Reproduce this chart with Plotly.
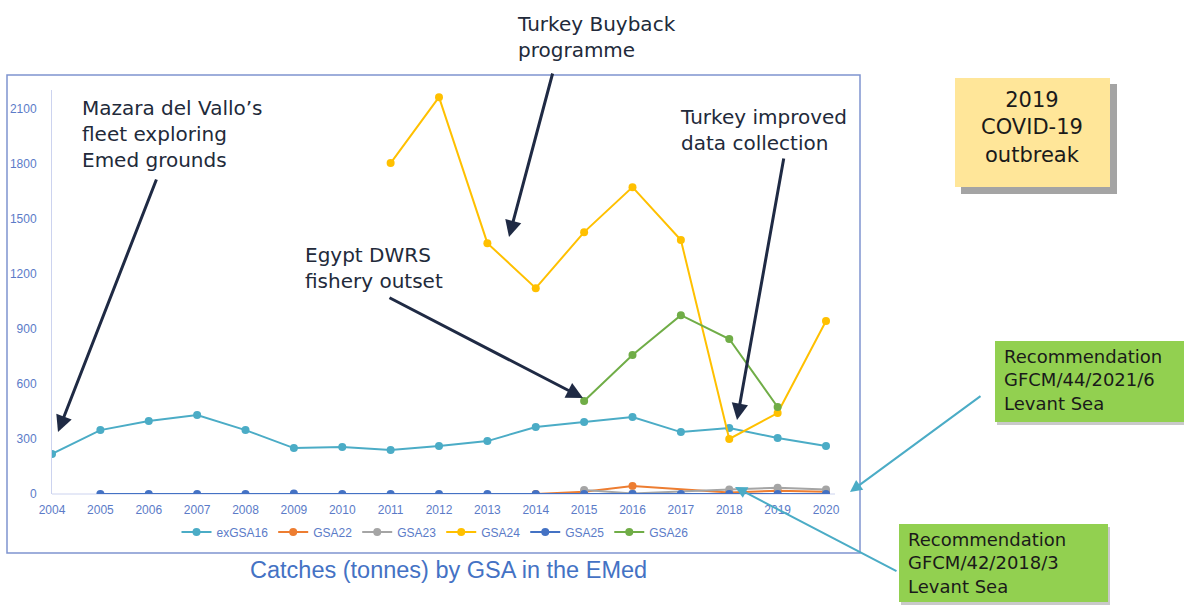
import plotly.graph_objects as go

W, H = 1184, 606

years = list(range(2004, 2021))
exGSA16 = [218, 348, 397, 430, 348, 250, 256, 240, 261, 288, 365, 392, 419, 337, 359, 305, 261]
gsa22_years = [2014, 2015, 2016, 2018, 2019, 2020]
gsa22 = [0, 12, 44, 8, 18, 12]
gsa23_years = [2015, 2016, 2018, 2019, 2020]
gsa23 = [22, 3, 25, 34, 25]
gsa24_years = list(range(2011, 2021))
gsa24 = [1802, 2161, 1366, 1121, 1426, 1671, 1383, 300, 441, 942]
gsa25_years = list(range(2005, 2021))
gsa25 = [0, 0, 0, 0, 3, 0, 0, 0, 0, 0, 0, 0, 0, 0, 0, 0]
gsa26_years = [2015, 2016, 2017, 2018, 2019]
gsa26 = [506, 757, 974, 844, 474]

y_ticks = [0, 300, 600, 900, 1200, 1500, 1800, 2100]

series = [
    ("exGSA16", years, exGSA16, "#4bacc6"),
    ("GSA22", gsa22_years, gsa22, "#ed7d31"),
    ("GSA23", gsa23_years, gsa23, "#a5a5a5"),
    ("GSA24", gsa24_years, gsa24, "#ffc000"),
    ("GSA25", gsa25_years, gsa25, "#4472c4"),
    ("GSA26", gsa26_years, gsa26, "#70ad47"),
]


def px(x):
    return x / W


def py(y):
    return 1 - y / H


fig = go.Figure()
for name, xs, ys, col in series:
    fig.add_trace(go.Scatter(x=xs, y=ys, name=name, mode="lines+markers",
                             line=dict(color=col, width=2),
                             marker=dict(color=col, size=8)))

tick_font = dict(family="Liberation Sans, Arial", size=12, color="#5b7bc8")

fig.update_layout(
    template="none",
    width=W, height=H,
    margin=dict(l=0, r=0, t=0, b=0, pad=0, autoexpand=False),
    paper_bgcolor="white", plot_bgcolor="white",
    showlegend=True,
    legend=dict(orientation="h", x=px(435), y=py(532), xanchor="center", yanchor="middle",
                font=dict(family="Liberation Sans, Arial", size=12, color="#5b7bc8"),
                itemwidth=30, tracegroupgap=0, bgcolor="rgba(0,0,0,0)"),
    xaxis=dict(domain=[px(52), px(835)], range=[2004, 2004 + (835 - 52) / 48.375],
               tickmode="array", tickvals=years, ticktext=[str(y) for y in years],
               showgrid=False, zeroline=False, showline=False, ticks="", automargin=False,
               tickfont=tick_font, ticklabelstandoff=7),
    yaxis=dict(domain=[py(494), py(90)], range=[0, 2200],
               tickmode="array", tickvals=y_ticks, ticktext=[str(v) for v in y_ticks],
               showgrid=False, zeroline=False, showline=True, linecolor="#ccd3ef", linewidth=1,
               ticks="", automargin=False, tickfont=tick_font, ticklabelstandoff=12),
)

shapes = []
# chart frame
shapes.append(dict(type="rect", xref="paper", yref="paper", x0=px(7), x1=px(860), y0=py(553), y1=py(75),
                   line=dict(color="#7f94d0", width=1.5), fillcolor="rgba(0,0,0,0)", layer="below"))
# x axis baseline
shapes.append(dict(type="line", xref="paper", yref="paper", x0=px(52), x1=px(835), y0=py(494), y1=py(494),
                   line=dict(color="#ccd3ef", width=1), layer="below"))
# sticky note shadow + note
shapes.append(dict(type="rect", xref="paper", yref="paper", x0=px(961), x1=px(1117), y0=py(194), y1=py(84),
                   line=dict(width=0), fillcolor="rgba(90,90,90,0.55)"))
shapes.append(dict(type="rect", xref="paper", yref="paper", x0=px(955), x1=px(1110), y0=py(187), y1=py(78),
                   line=dict(width=0), fillcolor="#ffe699"))
# green boxes with shadow
for (x0, x1, y0, y1) in [(995, 1186, 341, 422), (899, 1108, 524, 602)]:
    shapes.append(dict(type="rect", xref="paper", yref="paper", x0=px(x0 + 2), x1=px(x1 + 2), y0=py(y1 + 3), y1=py(y0 + 3),
                       line=dict(width=0), fillcolor="rgba(100,100,100,0.35)"))
    shapes.append(dict(type="rect", xref="paper", yref="paper", x0=px(x0), x1=px(x1), y0=py(y1), y1=py(y0),
                       line=dict(width=0), fillcolor="#92d050"))
fig.update_layout(shapes=shapes)

ann_font = dict(family="DejaVu Sans", size=20, color="#222a3a")
anns = []


def text(x, y, t, font, align="left", xanchor="left"):
    anns.append(dict(xref="paper", yref="paper", x=px(x), y=py(y), text=t, showarrow=False,
                     xanchor=xanchor, yanchor="top", align=align, font=font))


def arrow(hx, hy, tx, ty, color, width, head=2, size=1.0):
    anns.append(dict(xref="paper", yref="paper", x=px(hx), y=py(hy), ax=tx - hx, ay=ty - hy,
                     axref="pixel", ayref="pixel", text="", showarrow=True,
                     arrowhead=head, arrowsize=size, arrowwidth=width, arrowcolor=color))


text(80, 94, "Mazara del Vallo’s<br>fleet exploring<br>Emed grounds", ann_font)
text(515, 10, "Turkey Buyback<br>programme", ann_font)
text(303, 241, "Egypt DWRS<br>fishery outset", ann_font)
text(678, 103, "Turkey improved<br>data collection", ann_font)

text(1032, 86, "2019<br>COVID-19<br>outbreak",
     dict(family="DejaVu Sans", size=21, color="#1a1a1a"), align="center", xanchor="center")

box_font = dict(family="DejaVu Sans", size=18, color="#1a1a1a")
text(1002, 344, "Recommendation<br>GFCM/44/2021/6<br>Levant Sea", box_font)
text(906, 527, "Recommendation<br>GFCM/42/2018/3<br>Levant Sea", box_font)

anns.append(dict(xref="paper", yref="paper", x=px(448), y=py(570), text="Catches (tonnes) by GSA in the EMed",
                 showarrow=False, xanchor="center", yanchor="middle",
                 font=dict(family="Liberation Sans, Arial", size=23.5, color="#4472c4")))

navy = "#1f2a44"
arrow(58, 432, 157, 178, navy, 3, head=2, size=1.1)
arrow(509, 237, 553, 72, navy, 3, head=2, size=1.1)
arrow(583, 398, 388, 297, navy, 3, head=2, size=1.1)
arrow(737, 420, 784, 157, navy, 3, head=2, size=1.1)
arrow(850, 492, 982, 395, "#4bacc6", 2, head=2, size=1.2)
arrow(735, 487, 898, 572, "#4bacc6", 2, head=2, size=1.2)

fig.update_layout(annotations=anns)
fig.write_html("out.html")
